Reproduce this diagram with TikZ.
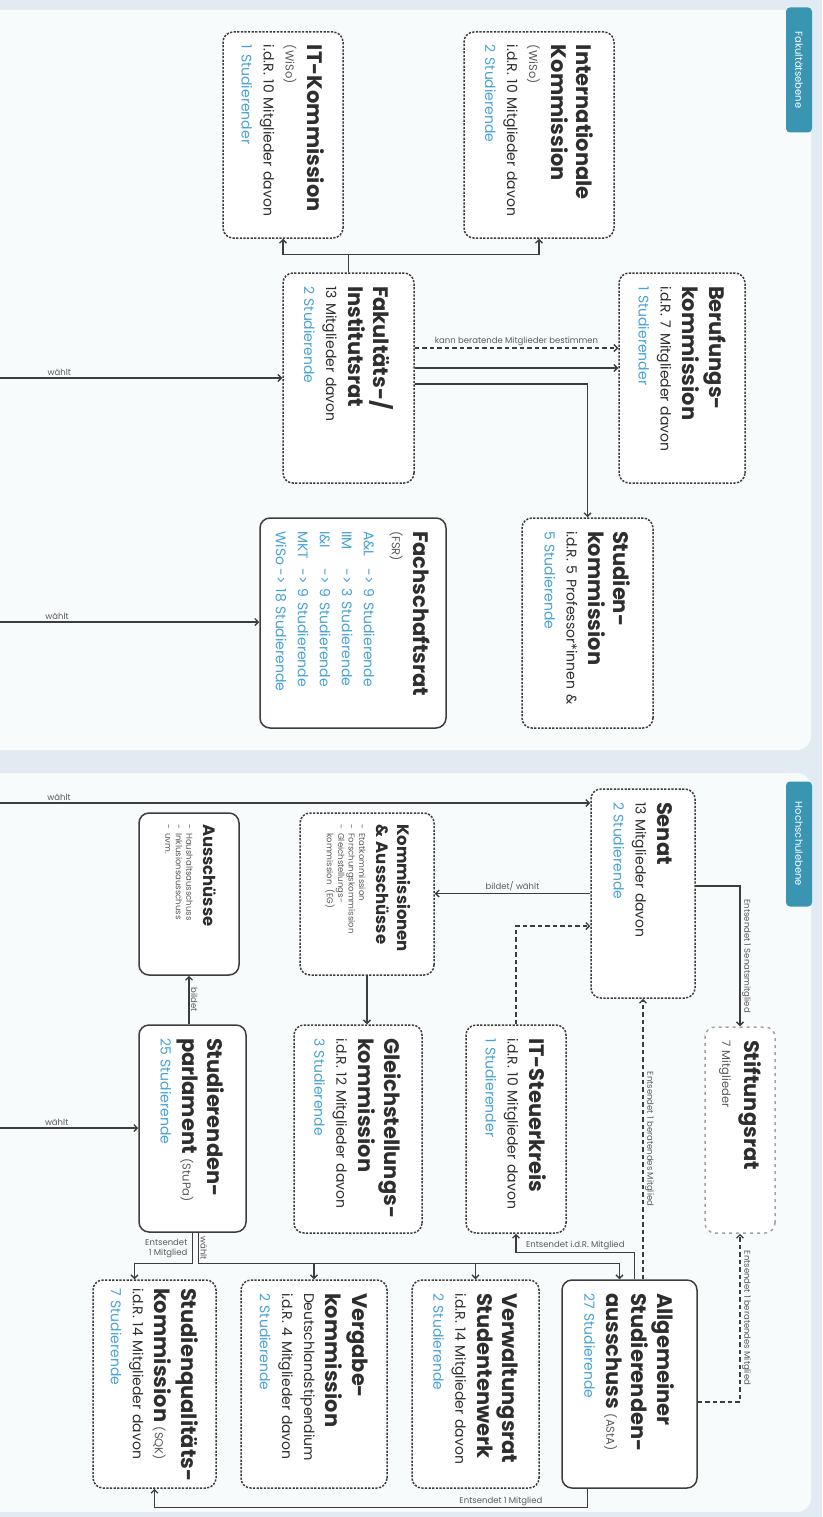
\documentclass[tikz,border=0pt]{standalone}
\usepackage{fontspec}
\setmainfont{Poppins}
\usetikzlibrary{arrows.meta}

\definecolor{bgblue}{HTML}{E1EBF1}
\definecolor{panelwhite}{HTML}{F8FBFC}
\definecolor{tagblue}{HTML}{3A95B3}
\definecolor{stublue}{HTML}{47A3D6}
\definecolor{linegray}{HTML}{3D3D3D}
\definecolor{textdark}{HTML}{2E2E2E}
\definecolor{textgray}{HTML}{5A5A5A}
\definecolor{lightdash}{HTML}{A3A3A3}

\hyphenpenalty=10000
\newcommand{\ttl}{\fontsize{21}{25}\selectfont\bfseries}
\newcommand{\ttlklein}{\fontsize{16.5}{20}\selectfont\bfseries}
\newcommand{\info}{\fontsize{14}{22}\selectfont}
\newcommand{\nebentext}{\fontsize{11.5}{13}\selectfont\color{textgray}}
\newcommand{\stud}{\fontsize{14}{22}\selectfont\color{stublue}}
\newcommand{\liste}{\fontsize{8.5}{10.5}\selectfont\color{textgray}}
\newcommand{\lblfont}{\fontsize{8.5}{10}\selectfont}

\begin{document}
\begin{tikzpicture}[x=1pt, y=-1pt, line width=1.3pt, draw=linegray,
    >={Straight Barb[length=3.5pt,width=7pt]},
    komm/.style={draw=linegray, line width=1.5pt, dash pattern=on 2.2pt off 1.4pt,
      rounded corners=10pt, fill=white, rotate=-90, align=left,
      inner xsep=13pt, inner ysep=6pt, font=\info, text=textdark},
    gremium/.style={komm, solid},
    stift/.style={komm, draw=lightdash, dash pattern=on 3pt off 4pt},
    ebene/.style={fill=tagblue, text=white, rotate=-90, minimum width=125pt,
      minimum height=26pt, font=\fontsize{10}{12}\selectfont, rounded corners=4pt},
    gestr/.style={dash pattern=on 4.5pt off 3pt},
    lbl/.style={font=\lblfont, text=textgray, inner sep=1.5pt},
    vlbl/.style={lbl, rotate=-90}]

  % background and the two levels
  \useasboundingbox (0,0) rectangle (822,1517);
  \fill[bgblue] (0,0) rectangle (822,1517);
  \fill[panelwhite, rounded corners=14pt] (-20,10) rectangle (811,750);
  \fill[panelwhite, rounded corners=14pt] (-20,773) rectangle (811,1512);
  \node[ebene] (tagfak) at (799,70) {Fakultätsebene};
  \node[ebene] (taghs) at (799,844) {Hochschulebene};

  % Fakultaetsebene
  \node[komm, text width=180pt, minimum height=120pt] (itkomm) at (283,135)
    {{\ttl IT-Kommission}\\{\nebentext (WiSo)}\\i.d.R. 10 Mitglieder davon\\{\stud 1 Studierender}};
  \node[komm, text width=180pt, minimum height=150pt] (intkomm) at (539,135)
    {{\ttl Internationale}\\[3pt]{\ttl Kommission}\\{\nebentext (WiSo)}\\i.d.R. 10 Mitglieder davon\\{\stud 2 Studierende}};
  \node[komm, text width=184pt, minimum height=131pt] (fakrat) at (348.5,378)
    {{\ttl Fakultäts-/}\\[3pt]{\ttl Institutsrat}\\13 Mitglieder davon\\{\stud 2 Studierende}};
  \node[komm, text width=184pt, minimum height=126pt] (berufung) at (682,378)
    {{\ttl Berufungs-}\\[3pt]{\ttl kommission}\\i.d.R. 7 Mitglieder davon\\{\stud 1 Studierender}};
  \node[gremium, text width=184pt, minimum height=186pt] (fsr) at (353,623)
    {{\ttl Fachschaftsrat}\\{\nebentext (FSR)}\\[6pt]
     {\stud\makebox[2.7em][l]{A\&L}-> 9 Studierende}\\
     {\stud\makebox[2.7em][l]{IIM}-> 3 Studierende}\\
     {\stud\makebox[2.7em][l]{I\&I}-> 9 Studierende}\\
     {\stud\makebox[2.7em][l]{MKT}-> 9 Studierende}\\
     {\stud\makebox[2.7em][l]{WiSo}-> 18 Studierende}};
  \node[komm, text width=184pt, minimum height=131pt] (studkomm) at (587.5,623)
    {{\ttl Studien-}\\[3pt]{\ttl kommission}\\i.d.R. 5 Professor*innen \&\\{\stud 5 Studierende}};

  \coordinate (wahlfak) at (0,378);
  \coordinate (wahlfsr) at (0,622);
  \draw[->] (wahlfak) -- (fakrat.south) node[lbl, pos=0.21, above] {wählt};
  \draw[->] (wahlfsr) -- (wahlfsr -| fsr.south) node[lbl, pos=0.22, above] {wählt};
  \draw[->] (fakrat.west) -- ++(0,-18) -| (itkomm.east);
  \draw[->] (fakrat.west) ++(0,-18) -| (intkomm.east);
  \draw[->, gestr] (fakrat.north |- 0,348) -- (berufung.south |- 0,348)
    node[lbl, midway, above] {kann beratende Mitglieder bestimmen};
  \draw[->] (fakrat.north |- 0,368) -- (berufung.south |- 0,368);
  \draw[->] (fakrat.north |- 0,384) -| (studkomm.west);

  % Hochschulebene
  \node[komm, text width=183pt, minimum height=104pt] (senat) at (643,893.5)
    {{\ttl Senat}\\13 Mitglieder davon\\{\stud 2 Studierende}};
  \node[komm, text width=140pt, inner xsep=11pt, minimum height=134pt] (kommaus) at (367,894)
    {{\ttlklein Kommissionen}\\[-1pt]{\ttlklein \& Ausschüsse}\\[-5pt]
     {\liste\begin{tabular}[t]{@{}l@{}}- Etatkommission\\- Forschungskommission\\- Gleichstellungs-\\\phantom{- }kommission (EG)\end{tabular}}};
  \node[gremium, text width=140pt, inner xsep=11pt, minimum height=100pt] (aussch) at (189,894)
    {{\ttlklein Ausschüsse}\\[-5pt]
     {\liste\begin{tabular}[t]{@{}l@{}}- Haushaltsausschuss\\- Inklusionsausschuss\\- uvm.\end{tabular}}};
  \node[gremium, text width=181pt, minimum height=107pt] (stupa) at (192.5,1128.5)
    {{\ttl Studierenden-}\\[3pt]{\ttl parlament} {\nebentext (StuPa)}\\{\stud 25 Studierende}};
  \node[komm, text width=182pt, minimum height=128pt] (gleich) at (358,1129)
    {{\ttl Gleichstellungs-}\\[3pt]{\ttl kommission}\\i.d.R. 12 Mitglieder davon\\{\stud 3 Studierende}};
  \node[komm, text width=182pt, minimum height=100pt] (itsteuer) at (516,1129)
    {{\ttl IT-Steuerkreis}\\i.d.R. 10 Mitglieder davon\\{\stud 1 Studierender}};
  \node[stift, text width=180pt, minimum height=70pt] (stiftung) at (740,1130)
    {{\ttl Stiftungsrat}\\{\nebentext 7 Mitglieder}};
  \node[gremium, text width=182pt, minimum height=135pt] (asta) at (629.5,1384)
    {{\ttl Allgemeiner}\\[3pt]{\ttl Studierenden-}\\[3pt]{\ttl ausschuss} {\nebentext (AStA)}\\{\stud 27 Studierende}};
  \node[komm, text width=182pt, minimum height=127pt] (verwalt) at (475.5,1384)
    {{\ttl Verwaltungsrat}\\[3pt]{\ttl Studentenwerk}\\i.d.R. 14 Mitglieder davon\\{\stud 2 Studierende}};
  \node[komm, text width=182pt, minimum height=146pt] (vergabe) at (314,1384)
    {{\ttl Vergabe-}\\[3pt]{\ttl kommission}\\Deutschlandstipendium\\i.d.R. 4 Mitglieder davon\\{\stud 2 Studierende}};
  \node[komm, text width=192pt, inner xsep=8pt, minimum height=123pt] (sqk) at (154.5,1384)
    {{\ttl \mbox{Studienqualitäts-}}\\[3pt]{\ttl kommission} {\nebentext (SQK)}\\i.d.R. 14 Mitglieder davon\\{\stud 7 Studierende}};

  \coordinate (wahlsenat) at (0,803);
  \coordinate (wahlstupa) at (0,1128);
  \draw[->] (wahlsenat) -- (wahlsenat -| senat.south) node[lbl, pos=0.1, above] {wählt};
  \draw[->] (wahlstupa) -- (wahlstupa -| stupa.south) node[lbl, pos=0.41, above] {wählt};
  \draw[->] (senat.south) -- (senat.south -| kommaus.north) node[lbl, midway, above] {bildet/ wählt};
  \draw[->] (kommaus.east) -- (kommaus.east |- gleich.west);
  \draw[->] (aussch.east |- stupa.west) -- (aussch.east) node[vlbl, midway, anchor=south] {bildet};
  \draw[->] (senat.north |- 0,886) -| (stiftung.west)
    node[vlbl, pos=0.75, anchor=south] {Entsendet 1 Senatsmitglied};
  \draw[->, gestr] (itsteuer.west) |- (senat.south |- 0,926);
  \draw[->, gestr] (senat.east |- asta.west) -- (senat.east)
    node[vlbl, midway, anchor=south] {Entsendet 1 beratendes Mitglied};
  \draw[->, gestr] (asta.north |- 0,1402) -| (stiftung.east)
    node[vlbl, pos=0.75, anchor=south] {Entsendet 1 beratendes Mitglied};
  \draw[->] ([xshift=5pt]asta.west) -- ++(0,-27) -| (itsteuer.east)
    node[lbl, pos=0.25, above] {Entsendet i.d.R. Mitglied};
  \draw[->] ([xshift=-42pt]asta.east) -- ++(0,19) -| (sqk.east)
    node[lbl, pos=0.1, above] {Entsendet 1 Mitglied};

  % StuPa waehlt / entsendet
  \draw[->] (stupa.east) -- ++(0,31) -| ([xshift=-20pt]sqk.west);
  \node[lbl, align=right, anchor=east] (lblsqk) at ([xshift=-3pt, yshift=-16pt]stupa.east) {Entsendet\\1 Mitglied};
  \draw ([xshift=6pt]stupa.east) -- ++(0,31) coordinate (stupabr)
    node[vlbl, midway, anchor=south] {wählt};
  \draw[->] (stupabr) -| (vergabe.west);
  \draw[->] (stupabr) -| (verwalt.west);
  \draw[->] (stupabr) -| ([xshift=-10pt]asta.west);
\end{tikzpicture}
\end{document}
